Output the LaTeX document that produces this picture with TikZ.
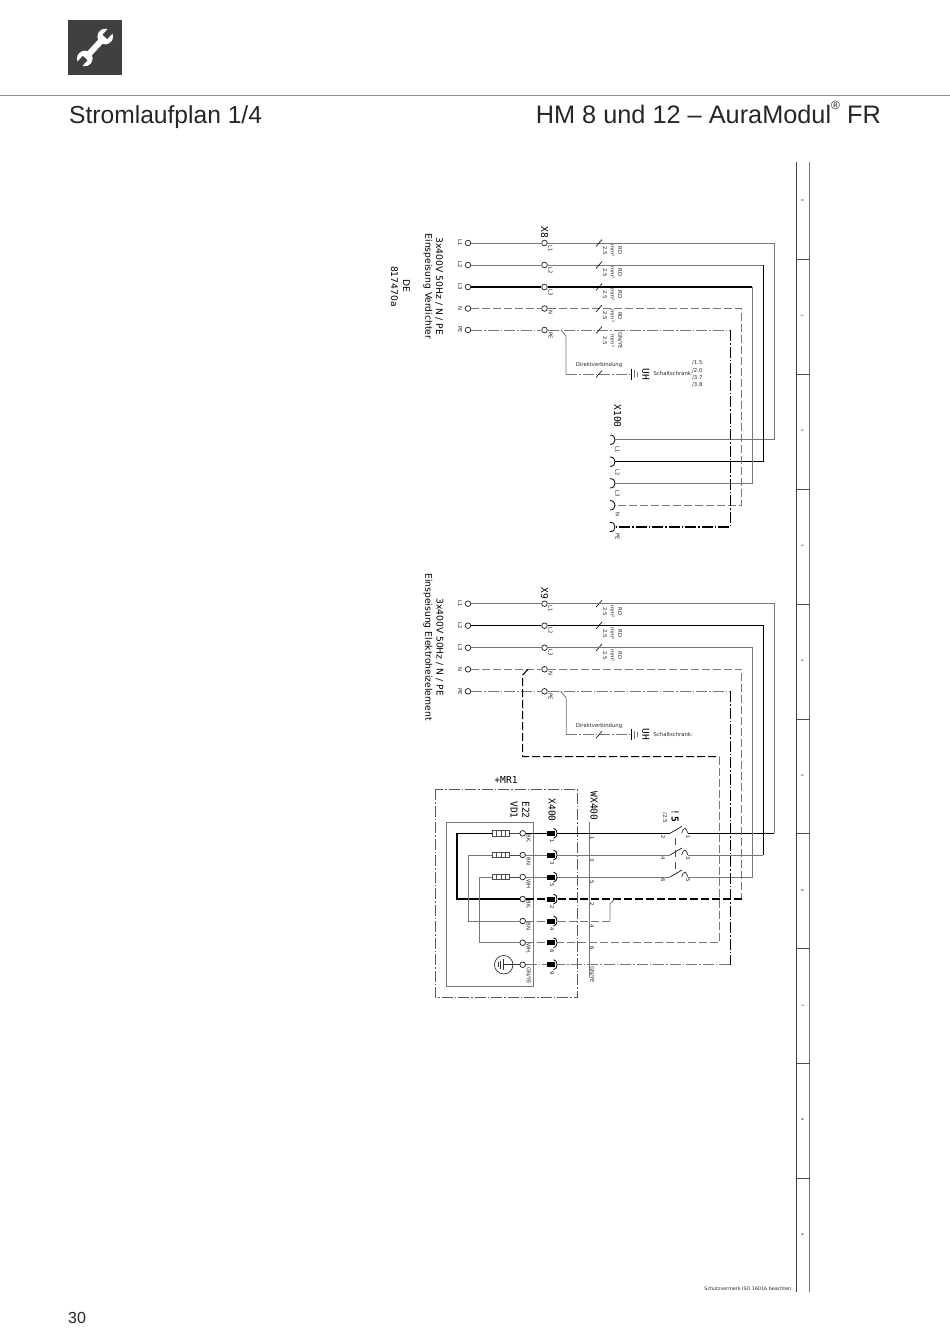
\documentclass[tikz,border=0pt]{standalone}
\usepackage{fontspec}
\usetikzlibrary{calc}
\setmainfont{Liberation Sans}
\newfontfamily\djs{DejaVu Sans}
\newfontfamily\djm{DejaVu Sans Mono}
\newcommand{\fsz}[1]{\fontsize{#1}{#1}\selectfont}
\definecolor{wg}{HTML}{777777}
\tikzset{
 x=1pt,y=-1pt,
 gw/.style={draw=wg,line width=0.8pt},
 bw/.style={draw=black,line width=1.1pt},
 dsh/.style={dash pattern=on 8pt off 3pt},
 dd/.style={dash pattern=on 11pt off 2pt on 1.5pt off 2pt},
 term/.style={circle,draw=black!85,line width=0.75pt,fill=white,inner sep=0pt,minimum size=5.6pt},
 pinbar/.style={rectangle,fill=black,draw=none,inner sep=0pt,minimum width=8pt,minimum height=5pt},
 big/.style={font=\djs\fsz{9.2},rotate=-90,inner sep=0pt,text=black},
 mono/.style={font=\djm\fsz{9.6},rotate=-90,inner sep=0pt},
 tiny/.style={font=\djs\fsz{5.3},rotate=-90,inner sep=0pt,text=black!85},
 flat/.style={font=\djs\fsz{5.3},inner sep=0pt,text=black!85},
 head/.style={font=\fsz{24.6},inner sep=0pt,anchor=base west,text=black!85},
 res/.style={rectangle,draw=black!70,fill=white,line width=0.8pt,inner sep=0pt,minimum width=17.5pt,minimum height=5.5pt,
   path picture={\foreach \q in {-4.4,0,4.4}{\draw[black!70,line width=.7pt] ([xshift=\q pt]path picture bounding box.north) -- ([xshift=\q pt]path picture bounding box.south);}}},
 tick/.style={draw=black,line width=0.6pt},
 sock/.style={draw=black,line width=0.8pt},
}
\begin{document}
\begin{tikzpicture}
\useasboundingbox (0,0) rectangle (950,1344);
\fill[white] (0,0) rectangle (950,1344);
% header
\draw[draw=black!45,line width=.8pt] (0,95) -- (950,95);
\fill[black!75] (68,20) rectangle (122,75);
\begin{scope}[shift={(95,47.5)},rotate=47]
 \draw[white,line width=6pt] (-11,0) -- (11,0);
 \fill[white] (-15,0) circle (7.8pt);
 \fill[white] (15,0) circle (7.8pt);
 \fill[black!75] (-24,-3.2) rectangle (-14.5,3.2);
 \fill[black!75] (24,-3.2) rectangle (14.5,3.2);
\end{scope}
\node[head] (title1) at (69,123) {Stromlaufplan 1/4};
\node[head,font=\fsz{25.3},anchor=base east] (title2) at (881,123) {HM 8 und 12 – AuraModul\raisebox{.55em}{\fsz{12}®} FR};
\node[font=\fsz{16},inner sep=0pt,anchor=base west,text=black!85] (pageno) at (68,1323) {30};
% right frame
\draw[draw=black!75,line width=1.5pt] (796.5,162) -- (796.5,1292);
\draw[draw=black!55,line width=1pt] (809.5,162) -- (809.5,1292);
\foreach \y in {259,374,489,604,719,833,948,1063,1178}
  \draw[draw=black!70,line width=.7pt] (796.5,\y) -- (809.5,\y);
\foreach \n/\y in {0/201,1/316,2/431,3/546,4/661,5/776,6/891,7/1006,8/1120,9/1235}
  \node[font=\djs\fsz{3.6},rotate=-90,inner sep=0pt,text=black!80] (col\n) at (802.5,\y) {\n};
\node[flat,font=\djs\fsz{4.8},anchor=east] (schutz) at (793,1289) {Schutzvermerk ISO 16016 beachten.};

% ===== block 1
\node[big] (t1a) at (439,286.5) {3x400V 50Hz / N / PE};
\node[big] (t1b) at (428,286.5) {Einspeisung Verdichter};
\node[big] (t1c) at (406.5,286) {DE};
\node[big] (t1d) at (394.5,286.5) {817470a};
\node[mono] (x8) at (544.5,232) {X8};
\foreach \n/\y/\t in {1/243/L1,2/265/L2,3/287/L3,4/308.5/N,5/330/PE}{
 \node[term] (a\n) at (468,\y) {};
 \node[term] (b\n) at (544.5,\y) {};
 \node[tiny,anchor=center] (lft\n) at (460,\y) {\t};
 \node[tiny,anchor=west] (rgt\n) at (550.5,\y+2) {\t};
 \coordinate (k\n) at (599,\y);
}
\foreach \n/\y/\t in {1/250.5/RD,2/272.5/RD,3/294.5/RD,4/316/RD}{
 \node[tiny] (rd\n) at (620,\y) {\t};
 \node[tiny] (mm\n) at (612.5,\y) {mm²};
 \node[tiny] (cs\n) at (605,\y) {2.5};
}
\node[tiny] (rd5) at (620,341) {GN/YE};
\node[tiny] (mm5) at (612.5,341) {mm²};
\node[tiny] (cs5) at (605,341) {2.5};
% end corners
\coordinate (e1) at (774.3,243); \coordinate (e2) at (763.3,265); \coordinate (e3) at (752.3,287);
\coordinate (e4) at (741.5,308.5); \coordinate (e5) at (730.3,330);
% X100
\node[mono] (x100) at (617.7,416) {X100};
\foreach \n/\y/\t/\ly in {1/439.7/L1/450,2/461.7/L2/472.5,3/483.3/L3/494,4/505.3/N/514,5/527/PE/537}{
 \coordinate (c\n) at (615,\y);
 \draw[sock] (610,\y-4.7) .. controls (613.5,\y-4.7) and (615,\y-2.5) .. (615,\y) .. controls (615,\y+2.5) and (613.5,\y+4.7) .. (610,\y+4.7);
 \node[tiny] (cl\n) at (617.5,\ly) {\t};
}
% horizontals
\draw[gw] (a1) -- (b1); \draw[gw] (b1) -- (e1) -- (c1 -| e1) -- (c1);
\draw[gw] (a2) -- (b2); \draw[gw] (b2) -- (e2); \draw[bw] (e2) -- (c2 -| e2) -- (c2);
\draw[bw] (a3) -- (b3); \draw[bw] (b3) -- (e3); \draw[gw] (e3) -- (c3 -| e3) -- (c3);
\draw[gw,dsh] (a4) -- (b4); \draw[gw,dsh] (b4) -- (e4) -- (c4 -| e4) -- (c4);
\draw[gw,dd] (a5) -- (b5); \draw[gw,dd] (b5) -- (e5); \draw[bw,dd] (e5) -- (c5 -| e5) -- (c5);
\foreach \n in {1,...,5}{ \draw[tick] ($(k\n)+(-3,3.5)$) -- ($(k\n)+(3,-3.5)$); }
% direct link block 1
\coordinate (j1) at (561,330); \coordinate (j2) at (566,336); \coordinate (j3) at (566,374); \node[inner sep=0,minimum size=0] (g1) at (631.7,374) {};
\draw[gw] (j1) -- (j2) -- (j3);
\draw[gw,line width=1pt,dd] (j3) -- (g1);
\draw[tick] (596,377.5) -- (602,370.5);
\draw[draw=black,line width=.9pt] (g1.center)+(0,-5.5) -- +(0,5.5);
\draw[draw=wg,line width=.7pt] (634.5,370) -- (634.5,378);
\draw[draw=wg,line width=.7pt] (637,371.5) -- (637,376.5);
\node[flat] (dv1) at (599,364.7) {Direktverbindung};
\node[mono] (uh1) at (645.7,374) {UH};
\node[flat,anchor=west] (sc1) at (653.5,374) {Schaltschrank:};
\foreach \n/\y/\t in {1/363/1.5,2/370.5/2.0,3/377.5/3.7,4/385/3.8}
 \node[flat,anchor=west] (rf\n) at (692,\y) {/\t};

% ===== block 2
\node[big] (t2a) at (439.5,647) {3x400V 50Hz / N / PE};
\node[big] (t2b) at (428,647) {Einspeisung Elektroheizelement};
\node[mono] (x9) at (544.5,593) {X9};
\foreach \n/\y/\t in {1/603.7/L1,2/625.7/L2,3/647.7/L3,4/669.3/N,5/691.3/PE}{
 \node[term] (p\n) at (468,\y) {};
 \node[term] (q\n) at (544.5,\y) {};
 \node[tiny] (plft\n) at (460,\y) {\t};
 \node[tiny,anchor=west] (prgt\n) at (550.5,\y+2) {\t};
}
\foreach \n/\y in {1/611.7,2/633.5,3/655.5}{
 \coordinate (m\n) at (599,\y-8);
 \node[tiny] (prd\n) at (620,\y) {RD};
 \node[tiny] (pmm\n) at (612.5,\y) {mm²};
 \node[tiny] (pcs\n) at (605,\y) {2.5};
 \draw[tick] ($(m\n)+(-3,3.5)$) -- ($(m\n)+(3,-3.5)$);
}
% module box
\node[font=\djm\fsz{9.6},inner sep=0pt] (mr1) at (506,780) {+MR1};
\draw[draw=black!65,line width=.7pt,dd] (435,789.3) rectangle (577.7,997.3);
\draw[draw=wg,line width=.9pt] (446,822.3) rectangle (533.7,986.7);
\node[mono] (e22) at (526,810) {E22};
\node[mono] (vd1) at (514,810) {VD1};
\node[mono] (x400) at (552,810) {X400};
\node[mono] (wx400) at (594,806) {WX400};
\draw[draw=wg,line width=1pt] (589,822) -- (589,976.7);
\foreach \n/\y/\pl/\pp in {1/833.3/1/841.5,2/855/3/863.5,3/877/5/885.5,4/899/2/907,5/921/4/929.5,6/942.7/6/951,7/964.7/9/973}{
 \node[term] (mc\n) at (522.7,\y) {};
 \node[pinbar] (mp\n) at (551,\y) {};
 \coordinate (ma\n) at (557,\y);
 \draw[sock] (553.5,\y-5) .. controls (556,\y-4.5) and (557,\y-2.5) .. (557,\y) .. controls (557,\y+2.5) and (556,\y+4.5) .. (553.5,\y+5);
 \node[tiny] (mpl\n) at (552,\pp) {\pl};
}
\foreach \n/\c/\ly in {1/BK./839,2/BN/861.5,3/WH/884,4/BK./905,5/BN./927,6/WH./949,7/GN\slash YE/976}
 \node[tiny] (mcl\n) at (528.5,\ly) {\c};
\foreach \n/\c/\ly in {1/1/838,2/3/860.5,3/5/882.5,4/2/904,5/4/926.5,6/6/948}
 \node[tiny] (wl\n) at (592,\ly) {\c};
\node[tiny] (wl7) at (592,975) {GN/YE};
% heaters
\foreach \n/\y in {1/833.3,2/855,3/877}{
 \node[res] (r\n) at (501,\y) {};
 \draw[draw=black!70,line width=.8pt] (r\n) -- (mc\n);
}
\coordinate (v1) at (457,833.3); \coordinate (v2) at (468.3,855); \coordinate (v3) at (479,877);
\draw[bw] (r1) -- (v1) -- (mc4 -| v1) -- (mc4);
\draw[gw] (r2) -- (v2) -- (mc5 -| v2) -- (mc5);
\draw[gw] (r3) -- (v3) -- (mc6 -| v3) -- (mc6);
% earth
\node[circle,draw=black!80,line width=.7pt,inner sep=0pt,minimum size=18.5pt] (earth) at (503.7,964.7) {};
\coordinate (eb) at (503,964.7);
\draw[draw=black!80,line width=.7pt] (mc7) -- (eb);
\draw[draw=black!80,line width=.7pt] (503,959) -- (503,970.4);
\draw[draw=black!80,line width=.7pt] (500.6,960.5) -- (500.6,968.9);
\draw[draw=black!80,line width=.7pt] (498.4,962) -- (498.4,967.4);
% circle to pin
\draw[bw] (mc1) -- (mp1);
\draw[gw] (mc2) -- (mp2); \draw[gw] (mc3) -- (mp3);
\draw[bw,dsh] (mc4) -- (mp4);
\draw[gw,dsh] (mc5) -- (mp5); \draw[gw,dsh] (mc6) -- (mp6);
\draw[gw,dd] (mc7) -- (mp7);
% switch
\node[mono] (s5) at (675,816) {!\hspace{1.5pt}\textbf{5}};
\node[tiny,font=\djs\fsz{5.5}] (s25) at (665,817.5) {/2.5};
\foreach \n/\y/\a/\b in {1/833.3/2/1,2/855/4/3,3/877/6/5}{
 \coordinate (sl\n) at (670,\y);
 \coordinate (sr\n) at (688,\y);
 \draw[draw=black!90,line width=.7pt] (sl\n) -- ++(12,-7);
 \draw[draw=black!90,line width=.6pt] (681.7,\y) .. controls (682.5,\y-3.5) and (684,\y-5) .. (685,\y-5) .. controls (686,\y-5) and (687,\y-2) .. (sr\n);
 \node[tiny] (sa\n) at (663,\y+3.5) {\a};
 \node[tiny] (sb\n) at (688,\y+3.5) {\b};
}
\draw[draw=black!70,line width=.6pt,dash pattern=on 7pt off 5pt] (675.7,838) -- (675.7,874);
% wires to the right
\coordinate (f1) at (774.3,603.7); \coordinate (f2) at (763.3,625.7); \coordinate (f3) at (752.3,647.7);
\coordinate (f4) at (741.5,669.3); \coordinate (f5) at (730.3,691.3);
\draw[gw] (p1) -- (q1); \draw[gw] (q1) -- (f1) -- (sr1 -| f1);
\draw[bw] (sr1 -| f1) -- (sr1);
\draw[bw] (p2) -- (q2); \draw[bw] (q2) -- (f2) -- (sr2 -| f2);
\draw[gw] (sr2 -| f2) -- (sr2);
\draw[gw] (p3) -- (q3); \draw[gw] (q3) -- (f3) -- (sr3 -| f3) -- (sr3);
\draw[gw,dsh] (p4) -- (q4); \draw[gw,dsh] (q4) -- (f4) -- (ma4 -| f4);
\draw[bw,dsh] (ma4 -| f4) -- (ma4);
\draw[gw,dd] (p5) -- (q5); \draw[gw,dd] (q5) -- (f5); \draw[bw,dd] (f5) -- (ma7 -| f5);
\draw[gw,dd] (ma7 -| f5) -- (ma7);
\draw[bw] (ma1) -- (sl1);
\draw[gw] (ma2) -- (sl2);
\draw[gw] (ma3) -- (sl3);
% N branch
\coordinate (n1) at (528,669.3); \coordinate (n2) at (522.7,675); \coordinate (n3) at (522.7,756.7); \coordinate (n4) at (719.3,756.7);
\draw[bw,line width=1pt,dsh] (n1) -- (n2) -- (n3) -- (n4);
\draw[gw,dsh] (n4) -- (ma6 -| n4) -- (ma6);
% PE branch
\coordinate (u1) at (560.7,691.3); \coordinate (u2) at (566.3,698); \coordinate (u3) at (566.3,734.7);
\node[inner sep=0,minimum size=0] (g2) at (631.7,734.7) {};
\draw[gw] (u1) -- (u2) -- (u3);
\draw[gw,line width=1pt,dd] (u3) -- (g2);
\draw[tick] (596,738.2) -- (602,731.2);
\draw[draw=black,line width=.9pt] (g2.center)+(0,-5.5) -- +(0,5.5);
\draw[draw=wg,line width=.7pt] (634.5,730.7) -- (634.5,738.7);
\draw[draw=wg,line width=.7pt] (637,732.2) -- (637,737.2);
\node[flat] (dv2) at (599,725.7) {Direktverbindung};
\node[mono] (uh2) at (645.7,734.7) {UH};
\node[flat,anchor=west] (sc2) at (653.5,734.7) {Schaltschrank:};
% row 4/5 bridge
\coordinate (w1) at (615,899); \coordinate (w2) at (610,904); \coordinate (w3) at (610,921);
\draw[gw] (w1) -- (w2) -- (w3);
\draw[gw,dsh] (w3) -- (ma5);
\end{tikzpicture}
\end{document}
